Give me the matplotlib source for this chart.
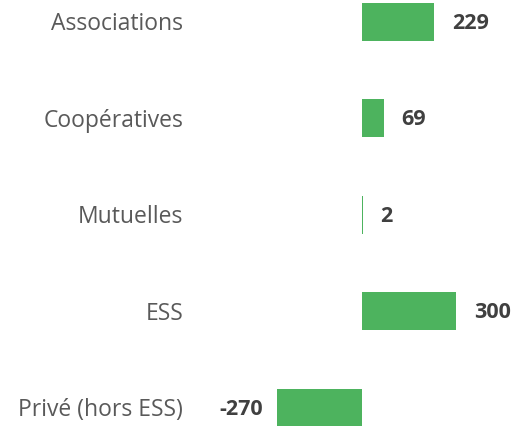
import matplotlib
matplotlib.use("Agg")
import matplotlib.pyplot as plt

categories = ["Associations", "Coopératives", "Mutuelles", "ESS", "Privé (hors ESS)"]
values = [229, 69, 2, 300, -270]

fig = plt.figure(figsize=(5.21, 4.26), dpi=100)
ax = fig.add_axes([0, 0, 1, 1])
pos = list(range(len(categories)))
ax.barh(pos, values, height=0.394, color="#4DB35E")
ax.set_xlim(-1149, 505)
ax.set_ylim(4.187, -0.228)
ax.axis("off")

for p, c in zip(pos, categories):
    ax.annotate(c, (-568, p), xytext=(0, -1.5), textcoords="offset points",
                ha="right", va="center", fontsize=16.5,
                family="Open Sans", color="#595959")

for p, v in zip(pos, values):
    if v >= 0:
        ax.annotate(f"{v}", (v, p), xytext=(13, -1), textcoords="offset points",
                    ha="left", va="center", fontsize=15.5, fontweight="bold",
                    family="Open Sans", color="#404040")
    else:
        ax.annotate(f"{v}", (v, p), xytext=(-10, -1), textcoords="offset points",
                    ha="right", va="center", fontsize=15.5, fontweight="bold",
                    family="Open Sans", color="#404040")

fig.savefig("out.png", dpi=100)
